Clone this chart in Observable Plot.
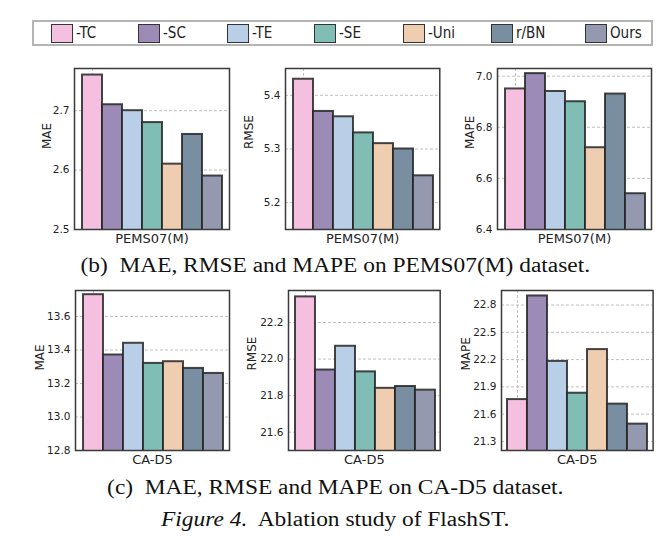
<!DOCTYPE html>
<html>
<head>
<meta charset="utf-8">
<script src="https://cdn.jsdelivr.net/npm/d3@7"></script>
<script src="https://cdn.jsdelivr.net/npm/@observablehq/plot@0.6"></script>
<style>
  html, body { margin: 0; padding: 0; background: #fff; }
  #root { position: relative; width: 671px; height: 556px; overflow: hidden; }
  .panel { position: absolute; }
  #legend {
    position: absolute; left: 32px; top: 20px; width: 621px; height: 26px;
    border: 2px solid #b4b4b4; box-sizing: border-box;
  }
  .item { position: absolute; top: 1.5px; display: flex; align-items: center; white-space: nowrap;
    font-family: "DejaVu Sans", sans-serif; font-stretch: condensed; font-size: 15px; color: #222; }
  .sw { width: 20px; height: 17px; border: 1px solid #333; margin-right: 3px; }
  .cap { position: absolute; left: 0; width: 671px; text-align: center;
    font-family: "Liberation Serif", "Times New Roman", serif; font-size: 20px; color: #111; white-space: pre;
    transform: scaleX(1.17); transform-origin: 337px 0; }
</style>
</head>
<body>
<div id="root"></div>
<script>
// ---- data ----
const models = ["-TC", "-SC", "-TE", "-SE", "-Uni", "r/BN", "Ours"];
const colors = ["#F5BFDF", "#9C8AB7", "#B9CFE7", "#80BDB4", "#EFCDB1", "#798FA1", "#9499AF"];

const pemsMAE  = [2.76, 2.71, 2.70, 2.68, 2.61, 2.66, 2.59];
const pemsRMSE = [5.43, 5.37, 5.36, 5.33, 5.31, 5.30, 5.25];
const pemsMAPE = [6.95, 7.01, 6.94, 6.90, 6.72, 6.93, 6.54];
const caMAE    = [13.73, 13.37, 13.44, 13.32, 13.33, 13.29, 13.26];
const caRMSE   = [22.34, 21.94, 22.07, 21.93, 21.84, 21.85, 21.83];
const caMAPE   = [21.76, 22.90, 22.18, 21.83, 22.31, 21.71, 21.49];

const pemsMAETicks  = [2.5, 2.6, 2.7];
const pemsRMSETicks = [5.2, 5.3, 5.4];
const pemsMAPETicks = [6.4, 6.6, 6.8, 7.0];
const caMAETicks    = [12.8, 13.0, 13.2, 13.4, 13.6];
const caRMSETicks   = [21.6, 21.8, 22.0, 22.2];
const caMAPETicks   = [21.3, 21.6, 21.9, 22.2, 22.5, 22.8];

const captionB = "(b)  MAE, RMSE and MAPE on PEMS07(M) dataset.";
const captionC = "(c)  MAE, RMSE and MAPE on CA-D5 dataset.";
const figCaption = "Ablation study of FlashST.";

// ---- layout ----
const root = document.getElementById("root");

const legendX = [17, 104, 193, 280, 369, 457, 551];
const legend = document.createElement("div");
legend.id = "legend";
models.forEach((m, i) => {
  const it = document.createElement("div");
  it.className = "item";
  it.style.left = legendX[i] + "px";
  const sw = document.createElement("div");
  sw.className = "sw";
  sw.style.background = colors[i];
  const lab = document.createElement("span");
  lab.textContent = m;
  it.appendChild(sw); it.appendChild(lab);
  legend.appendChild(it);
});
root.appendChild(legend);

const ML = 50, MR = 6, MT = 4, MB = 22;

function panel(values, dataset, metric, domain, ticks, f, labelOffset) {
  const data = models.map((m, i) => ({model: m, value: values[i]}));
  const w = f.r - f.l, h = f.b - f.t;
  const chart = Plot.plot({
    width: w + ML + MR,
    height: h + MT + MB,
    marginLeft: ML, marginRight: MR, marginTop: MT, marginBottom: MB,
    style: {fontFamily: "DejaVu Sans", fontSize: "10.5px", color: "#222", background: "transparent"},
    x: {type: "band", domain: models, padding: 0, insetLeft: 5, insetRight: 3.7, axis: null},
    y: {domain, axis: null},
    color: {domain: models, range: colors},
    marks: [
      Plot.gridY(ticks, {stroke: "#b0b0b0", strokeOpacity: 1, strokeDasharray: "3,2", strokeWidth: 0.8}),
      Plot.ruleX([models[0]], {x: d => d, stroke: "#b0b0b0", strokeDasharray: "3,2", strokeWidth: 0.8}),
      Plot.barY(data, {x: "model", y: "value", fill: "model", stroke: "#262626", strokeOpacity: 0.85, strokeWidth: 2, clip: true}),
      Plot.axisY(ticks, {tickSize: 0, tickPadding: 5, tickFormat: d3.format(".1f"), label: null, fontSize: 10.5}),
      Plot.text([metric], {frameAnchor: "left", rotate: -90, dx: -labelOffset, text: d => d, fontSize: 12, fill: "#222"}),
      Plot.text([dataset], {frameAnchor: "bottom", dy: 9, lineAnchor: "middle", text: d => d, fontSize: 13, fill: "#222"}),
      Plot.frame({stroke: "#3a3a3a", strokeWidth: 1.5})
    ]
  });
  chart.classList.add("panel");
  chart.style.left = (f.l - ML) + "px";
  chart.style.top = (f.t - MT) + "px";
  root.appendChild(chart);
}

panel(pemsMAE,  "PEMS07(M)", "MAE",  [2.5, 2.771], pemsMAETicks,  {l: 74,    r: 229,   t: 68, b: 229}, 27);
panel(pemsRMSE, "PEMS07(M)", "RMSE", [5.15, 5.45], pemsRMSETicks, {l: 285,   r: 439.3, t: 68, b: 229}, 36);
panel(pemsMAPE, "PEMS07(M)", "MAPE", [6.4, 7.03],  pemsMAPETicks, {l: 496.7, r: 650.7, t: 68, b: 229}, 27);
panel(caMAE,  "CA-D5", "MAE",  [12.8, 13.755], caMAETicks,  {l: 75,    r: 229,   t: 290, b: 450}, 35);
panel(caRMSE, "CA-D5", "RMSE", [21.5, 22.375], caRMSETicks, {l: 288.3, r: 440,   t: 290, b: 450}, 36.6);
panel(caMAPE, "CA-D5", "MAPE", [21.2, 22.96],  caMAPETicks, {l: 500.7, r: 652.3, t: 290, b: 450}, 35.7);

function caption(html, top) {
  const d = document.createElement("div");
  d.className = "cap";
  d.style.top = top + "px";
  d.innerHTML = html;
  root.appendChild(d);
}
caption(captionB, 254);
caption(captionC, 476);
caption("<i>Figure 4.</i>  " + figCaption, 508);
</script>
</body>
</html>
